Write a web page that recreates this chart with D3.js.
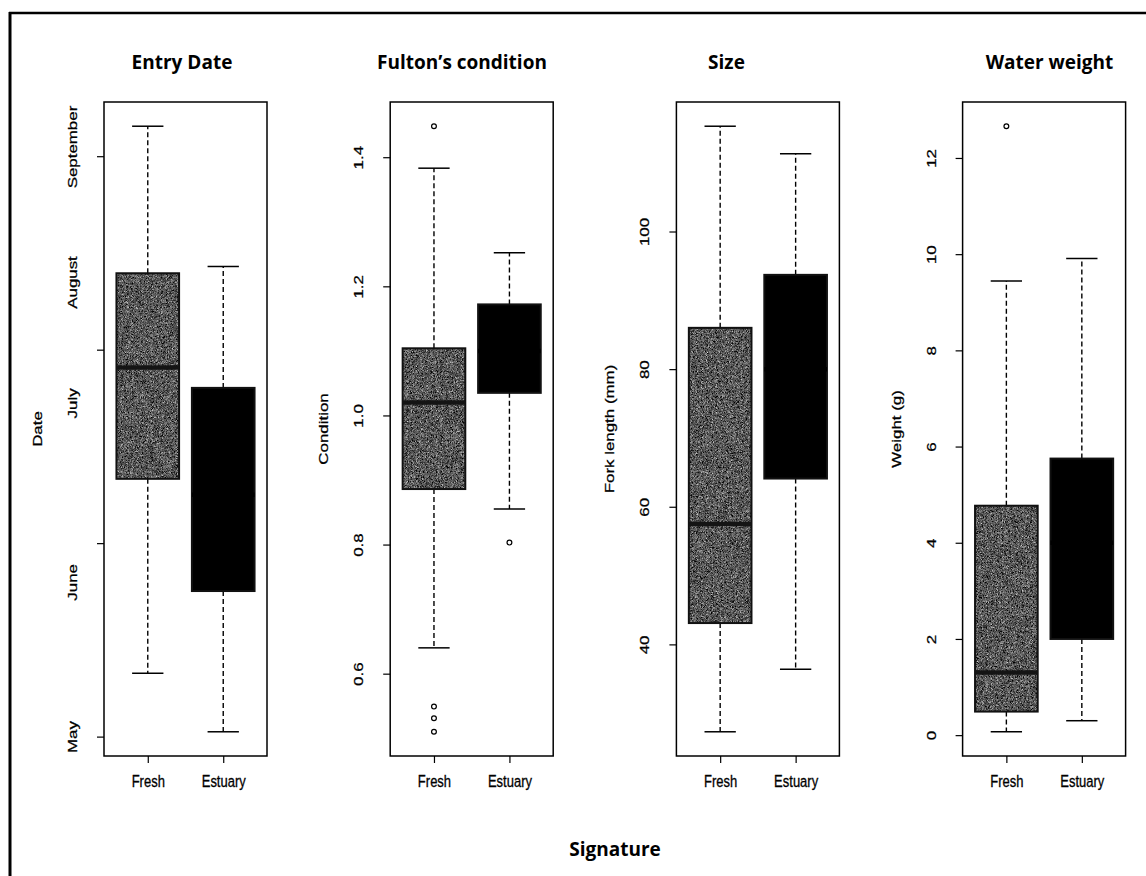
<!doctype html>
<html>
	<head>
		<meta charset="UTF-8">
		<title>Signature boxplots</title>
		<script src="https://d3js.org/d3.v7.min.js"></script>
		<style>
			body { margin: 0; background: #ffffff; }
		</style>
	</head>
	<body>
		<script>

// -------------------------------------- data

		// categories
		var signatures = ["Fresh", "Estuary"];
		var panelTitles = ["Entry Date", "Fulton\u2019s condition", "Size", "Water weight"];
		var axisTitles = ["Date", "Condition", "Fork length (mm)", "Weight (g)"];

		// box stats: [lower whisker, Q1, median, Q3, upper whisker]
		var entryFresh = [133.1, 173.3, 196.3, 215.8, 246.2];
		var entryEstuary = [121.0, 150.1, 170.0, 192.1, 217.2];
		var fultonFresh = [0.640, 0.886, 1.020, 1.104, 1.383];
		var fultonEstuary = [0.855, 1.035, 1.100, 1.172, 1.252];
		var sizeFresh = [27.3, 43.1, 57.5, 86.0, 115.3];
		var sizeEstuary = [36.4, 64.1, 80.0, 93.7, 111.3];
		var weightFresh = [0.07, 0.49, 1.30, 4.77, 9.44];
		var weightEstuary = [0.30, 2.00, 4.00, 5.75, 9.91];

		// outliers
		var entryOutFresh = [];
		var entryOutEstuary = [];
		var fultonOutFresh = [1.448, 0.549, 0.531, 0.510];
		var fultonOutEstuary = [0.803];
		var sizeOutFresh = [];
		var sizeOutEstuary = [];
		var weightOutFresh = [12.66];
		var weightOutEstuary = [];

		// ticks (entry date is in day of year)
		var dateTicks = [120, 160, 200, 240];
		var monthNames = ["May", "June", "July", "August", "September"];
		var monthPos = [120, 152, 189, 214, 242];
		var fultonTicks = [0.6, 0.8, 1.0, 1.2, 1.4];
		var sizeTicks = [40, 60, 80, 100];
		var weightTicks = [0, 2, 4, 6, 8, 10, 12];

// -------------------------------------- main settings

		var width = 1146, height = 876;
		var plotTop = 102, plotBottom = 756, plotW = 163;
		var firstLeft = 104, colStep = 286.2;
		var boxW = 0.83;
		var titleX = [182, 462, 726.5, 1049.5];
		var r_font = "'Liberation Sans', Arial, sans-serif";
		var title_font = "'Open Sans', sans-serif";
		var stretch = 1.3;
		var boxCols = ["#4a4a4a", "#000000"];
		var medianCols = ["#141414", "#000000"];

		var panels = [
			{ stats: [entryFresh, entryEstuary], out: [entryOutFresh, entryOutEstuary], ticks: dateTicks, fmt: null },
			{ stats: [fultonFresh, fultonEstuary], out: [fultonOutFresh, fultonOutEstuary], ticks: fultonTicks, fmt: d3.format(".1f") },
			{ stats: [sizeFresh, sizeEstuary], out: [sizeOutFresh, sizeOutEstuary], ticks: sizeTicks, fmt: d3.format("d") },
			{ stats: [weightFresh, weightEstuary], out: [weightOutFresh, weightOutEstuary], ticks: weightTicks, fmt: d3.format("d") }
		];

// -------------------------------------- svg board

		var svg = d3.select("body").append("svg")
			.attr("width", width)
			.attr("height", height)
			.style("display", "block")
			.style("background", "#ffffff");

		// grainy fill of the fresh boxes
		var filter = svg.append("defs").append("filter")
			.attr("id", "grain")
			.attr("color-interpolation-filters", "sRGB")
			.attr("x", 0).attr("y", 0).attr("width", 1).attr("height", 1);
		filter.append("feTurbulence")
			.attr("type", "fractalNoise")
			.attr("baseFrequency", 2.2)
			.attr("numOctaves", 1)
			.attr("seed", 7)
			.attr("result", "noise");
		filter.append("feColorMatrix")
			.attr("in", "noise")
			.attr("type", "matrix")
			.attr("values", "0.8 0.8 0.8 0 -0.86  0.8 0.8 0.8 0 -0.86  0.8 0.8 0.8 0 -0.86  0 0 0 0 1")
			.attr("result", "gray");
		filter.append("feComposite")
			.attr("in", "gray")
			.attr("in2", "SourceGraphic")
			.attr("operator", "in");

// -------------------------------------- outer frame

		svg.append("line")
			.attr("x1", 10).attr("y1", 12).attr("x2", 10).attr("y2", height)
			.style("stroke", "#000").style("stroke-width", 3);
		svg.append("line")
			.attr("x1", 9).attr("y1", 13).attr("x2", width).attr("y2", 13)
			.style("stroke", "#000").style("stroke-width", 2.5);

// -------------------------------------- panels

		panels.forEach(function(p, i) {

			var left = firstLeft + i * colStep;
			var g = svg.append("g");

			// scales (R style: 4% padding)
			var x = d3.scaleLinear().domain([0.42, 2.58]).range([left, left + plotW]);
			var all = d3.merge(p.stats.concat(p.out));
			var ext = d3.extent(all);
			var pad = (ext[1] - ext[0]) * 0.04;
			var y = d3.scaleLinear().domain([ext[0] - pad, ext[1] + pad]).range([plotBottom, plotTop]);

			p.stats.forEach(function(s, j) {
				var cx = x(j + 1);
				var bx0 = x(j + 1 - boxW / 2), bx1 = x(j + 1 + boxW / 2);
				var capHalf = (bx1 - bx0) / 4;

				// whiskers
				g.append("line")
					.attr("x1", cx).attr("x2", cx)
					.attr("y1", y(s[3])).attr("y2", y(s[4]))
					.style("stroke", "#000").style("stroke-width", 1.4)
					.style("stroke-dasharray", "5,3");
				g.append("line")
					.attr("x1", cx).attr("x2", cx)
					.attr("y1", y(s[1])).attr("y2", y(s[0]))
					.style("stroke", "#000").style("stroke-width", 1.4)
					.style("stroke-dasharray", "5,3");

				// caps
				[s[0], s[4]].forEach(function(v) {
					g.append("line")
						.attr("x1", cx - capHalf).attr("x2", cx + capHalf)
						.attr("y1", y(v)).attr("y2", y(v))
						.style("stroke", "#000").style("stroke-width", 1.5);
				});

				// box
				g.append("rect")
					.attr("x", bx0).attr("y", y(s[3]))
					.attr("width", bx1 - bx0).attr("height", y(s[1]) - y(s[3]))
					.style("fill", boxCols[j])
					.attr("filter", j === 0 ? "url(#grain)" : null);
				g.append("rect")
					.attr("x", bx0).attr("y", y(s[3]))
					.attr("width", bx1 - bx0).attr("height", y(s[1]) - y(s[3]))
					.style("fill", "none")
					.style("stroke", "#111").style("stroke-width", 2);

				// median
				g.append("line")
					.attr("x1", bx0).attr("x2", bx1)
					.attr("y1", y(s[2])).attr("y2", y(s[2]))
					.style("stroke", medianCols[j]).style("stroke-width", 4.5);

				// outliers
				g.selectAll(null)
					.data(p.out[j])
					.enter().append("circle")
					.attr("cx", cx)
					.attr("cy", d => y(d))
					.attr("r", 2.4)
					.style("fill", "#fff")
					.style("stroke", "#000")
					.style("stroke-width", 1.2);
			});

			// plot frame
			g.append("rect")
				.attr("x", left).attr("y", plotTop)
				.attr("width", plotW).attr("height", plotBottom - plotTop)
				.style("fill", "none")
				.style("stroke", "#000")
				.style("stroke-width", 1.5);

			// y axis
			var yAxis = g.append("g")
				.attr("transform", "translate(" + left + ",0)");
			if (i === 0) {
				yAxis.call(d3.axisLeft(y).tickValues(dateTicks).tickSize(7).tickFormat(""));
				var labAxis = g.append("g")
					.attr("transform", "translate(" + left + ",0)")
					.call(d3.axisLeft(y).tickValues(monthPos).tickSize(0).tickFormat((d, k) => monthNames[k]));
				labAxis.select(".domain").remove();
				labAxis.selectAll("line").remove();
				styleYText(labAxis);
			} else {
				yAxis.call(d3.axisLeft(y).tickValues(p.ticks).tickSize(7).tickFormat(p.fmt));
				styleYText(yAxis);
			}
			yAxis.select(".domain").remove();
			yAxis.selectAll("line").style("stroke-width", 1.2);

			// x axis
			var xAxis = g.append("g")
				.attr("transform", "translate(0," + plotBottom + ")")
				.call(d3.axisBottom(x).tickValues([1, 2]).tickSize(7).tickFormat((d, k) => signatures[k]));
			xAxis.select(".domain").remove();
			xAxis.selectAll("line").style("stroke-width", 1.2);
			xAxis.selectAll("text")
				.attr("y", 0).attr("dy", 0)
				.attr("transform", "translate(0,31) scale(1," + stretch + ")")
				.style("font-family", r_font)
				.style("font-size", "13px")
				.style("fill", "#000")
				.style("stroke", "#000")
				.style("stroke-width", 0.25);

			// y axis title
			g.append("text")
				.text(axisTitles[i])
				.attr("transform", "translate(" + (left - 62) + "," + ((plotTop + plotBottom) / 2) + ") rotate(-90) scale(" + stretch + ",1)")
				.attr("text-anchor", "middle")
				.style("font-family", r_font)
				.style("font-size", "13px")
				.style("fill", "#000")
				.style("stroke", "#000")
				.style("stroke-width", 0.25);

			// panel title
			g.append("text")
				.text(panelTitles[i])
				.attr("x", titleX[i])
				.attr("y", 69)
				.attr("text-anchor", "middle")
				.style("font-family", title_font)
				.style("font-weight", 700)
				.style("font-size", "19px")
				.style("fill", "#000");
		});

		function styleYText(sel) {
			sel.selectAll("text")
				.attr("x", 0).attr("dy", 0)
				.attr("text-anchor", "middle")
				.attr("transform", "translate(-27,0) rotate(-90) scale(" + stretch + ",1)")
				.style("font-family", r_font)
				.style("font-size", "13px")
				.style("fill", "#000")
				.style("stroke", "#000")
				.style("stroke-width", 0.25);
		}

// -------------------------------------- bottom title

		svg.append("text")
			.text("Signature")
			.attr("x", 615)
			.attr("y", 856)
			.attr("text-anchor", "middle")
			.style("font-family", title_font)
			.style("font-weight", 700)
			.style("font-size", "19px")
			.style("fill", "#000");

		</script>
	</body>
</html>
